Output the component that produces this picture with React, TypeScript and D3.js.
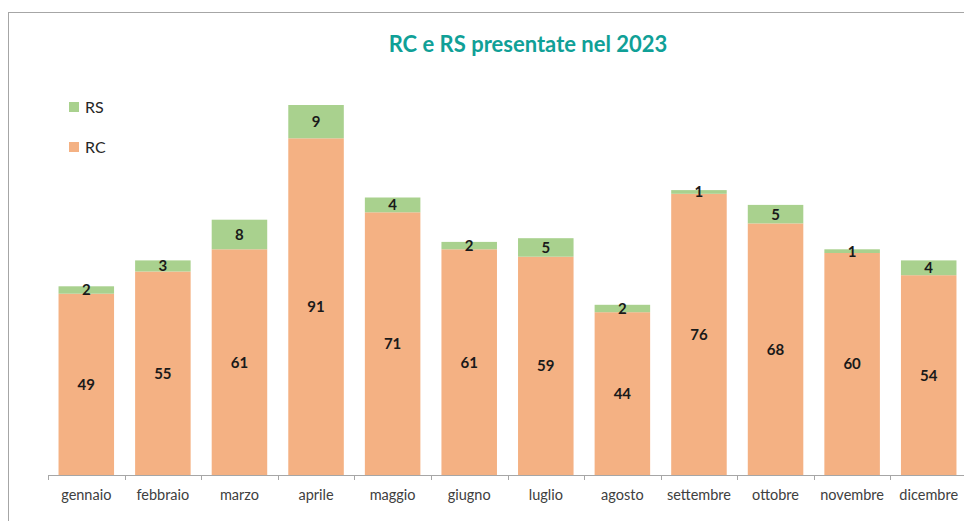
import React from "react";
import * as d3 from "d3";

const months = ["gennaio", "febbraio", "marzo", "aprile", "maggio", "giugno", "luglio", "agosto", "settembre", "ottobre", "novembre", "dicembre"];
const rcValues = [49, 55, 61, 91, 71, 61, 59, 44, 76, 68, 60, 54];
const rsValues = [2, 3, 8, 9, 4, 2, 5, 2, 1, 5, 1, 4];
const seriesNames = ["RC", "RS"];
const title = "RC e RS presentate nel 2023";

const W = 964;
const H = 521;
const FONT = "Lato, 'Open Sans', sans-serif";
const C_RC = "#F4B183";
const C_RS = "#A9D18E";

export default function App() {
  const x = d3.scaleBand<string>().domain(months).range([48, 967]).paddingInner(0.275).paddingOuter(0.1375);
  const y = d3.scaleLinear().domain([0, 100]).range([475, 105]);
  const rows = months.map((m, i) => ({ m, RC: rcValues[i], RS: rsValues[i] }));
  const stack = d3.stack<any>().keys(seriesNames)(rows);
  const colors: Record<string, string> = { RC: C_RC, RS: C_RS };
  const ticks = months.map((m) => (x(m) as number) - x.step() * x.paddingInner() / 2);
  ticks.push(967);

  return (
    <svg width={W} height={H} style={{ position: "absolute", left: 0, top: 0, background: "#fff" }} fontFamily={FONT}>
      <rect x={8.5} y={12.5} width={W + 10} height={H + 10} fill="#fff" stroke="#A6A6A6" strokeWidth={1} />
      <text x={528} y={52} textAnchor="middle" fontSize={22} fontWeight={700} fill="#10A097">{title}</text>
      {stack.map((s) => (
        <g key={s.key}>
          {s.map((d, i) => {
            const top = y(d[1]);
            const bot = y(d[0]);
            return (
              <rect key={i} x={x(months[i])} y={top} width={x.bandwidth()} height={bot - top} fill={colors[s.key]} />
            );
          })}
        </g>
      ))}
      {stack.map((s) => (
        <g key={s.key + "-lbl"}>
          {s.map((d, i) => {
            const top = y(d[1]);
            const bot = y(d[0]);
            const v = d[1] - d[0];
            return (
              <text key={i} x={(x(months[i]) as number) + x.bandwidth() / 2} y={(top + bot) / 2} dy="0.36em" textAnchor="middle" fontSize={15} fontWeight={700} fill="#1a1a1a">{v}</text>
            );
          })}
        </g>
      ))}
      <line x1={48} x2={967} y1={475.5} y2={475.5} stroke="#A6A6A6" strokeWidth={1} />
      {ticks.map((t, i) => (
        <line key={i} x1={Math.round(t) + 0.5} x2={Math.round(t) + 0.5} y1={475} y2={480} stroke="#A6A6A6" strokeWidth={1} />
      ))}
      {months.map((m) => (
        <text key={m} x={(x(m) as number) + x.bandwidth() / 2} y={495} dy="0.35em" textAnchor="middle" fontSize={14.5} fill="#404040">{m}</text>
      ))}
      <g>
        <rect x={69} y={102} width={10} height={10} fill={C_RS} />
        <text x={85} y={107} dy="0.36em" fontSize={16} fill="#262626">RS</text>
        <rect x={69} y={142} width={10} height={10} fill={C_RC} />
        <text x={85} y={147} dy="0.36em" fontSize={16} fill="#262626">RC</text>
      </g>
    </svg>
  );
}
